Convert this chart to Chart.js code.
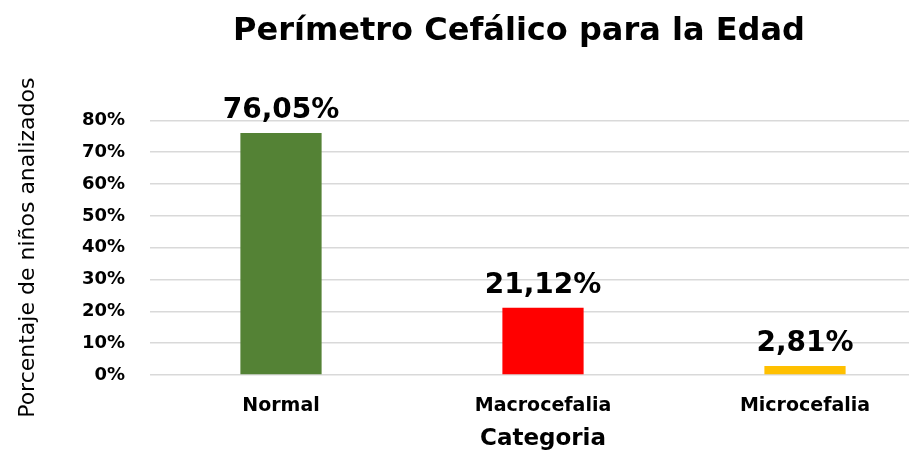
<!DOCTYPE html>
<html lang="es">
<head>
<meta charset="utf-8">
<title>Perímetro Cefálico para la Edad</title>
<script src="https://cdn.jsdelivr.net/npm/chart.js@4.4.1/dist/chart.umd.min.js"></script>
<style>
  html, body { margin: 0; padding: 0; overflow: hidden; background: #fff; }
  #wrap { width: 909px; height: 453px; overflow: hidden; }
</style>
</head>
<body>
<div id="wrap"><canvas id="perimetroChart" width="1038" height="453"></canvas></div>
<script>
const categories = ["Normal", "Macrocefalia", "Microcefalia"];
const percentages = [76.05, 21.12, 2.81];
const barColors = ["#548235", "#ff0000", "#ffc000"];
const yMax = 80;
const yStep = 10;

function formatPct(v) {
  return v.toFixed(2).replace(".", ",") + "%";
}

// etiquetas encima de cada barra
const barLabels = {
  id: "barLabels",
  afterDatasetsDraw(chart) {
    const ctx = chart.ctx;
    const meta = chart.getDatasetMeta(0);
    ctx.save();
    ctx.font = "bold 28px 'DejaVu Sans'";
    ctx.fillStyle = "#000";
    ctx.textAlign = "center";
    ctx.textBaseline = "alphabetic";
    meta.data.forEach((bar, i) => {
      ctx.fillText(formatPct(percentages[i]), bar.x, bar.y - 15);
    });
    ctx.restore();
  },
};

// el titulo original no esta centrado en el lienzo, lo movemos un poco a la derecha
const titleShift = {
  id: "titleShift",
  afterLayout(chart) {
    if (chart.titleBlock) {
      chart.titleBlock.left += 51;
      chart.titleBlock.right += 51;
    }
  },
};

document.addEventListener("DOMContentLoaded", function () {
  const ctx = document.getElementById("perimetroChart").getContext("2d");

  new Chart(ctx, {
    type: "bar",
    data: {
      labels: categories,
      datasets: [
        {
          label: "Porcentaje",
          data: percentages,
          backgroundColor: barColors,
          borderWidth: 0,
          barPercentage: 0.31,
          categoryPercentage: 1,
        },
      ],
    },
    plugins: [barLabels, titleShift],
    options: {
      responsive: false,
      animation: false,
      layout: {
        padding: { left: 0, right: 102, top: 0, bottom: 0 },
      },
      plugins: {
        legend: { display: false },
        tooltip: { enabled: false },
        title: {
          display: true,
          text: "Perímetro Cefálico para la Edad",
          color: "#000",
          font: { family: "'DejaVu Sans'", size: 32, weight: "bold" },
          padding: { top: 12, bottom: 70 },
        },
      },
      scales: {
        y: {
          min: 0,
          max: yMax,
          afterFit: function (scale) {
            scale.width = 150;
          },
          ticks: {
            stepSize: yStep,
            padding: 25,
            color: "#000",
            font: { family: "'DejaVu Sans'", size: 18, weight: "bold" },
            callback: function (value) {
              return value + "%";
            },
          },
          grid: {
            color: "#d9d9d9",
            lineWidth: 1.5,
            drawTicks: false,
          },
          border: { display: false },
          title: {
            display: true,
            text: "Porcentaje de niños analizados",
            color: "#000",
            font: { family: "'DejaVu Sans'", size: 22 },
            padding: { top: 15, bottom: 0 },
          },
        },
        x: {
          afterFit: function (scale) {
            scale.height = 78;
          },
          ticks: {
            padding: 20,
            color: "#000",
            font: { family: "'DejaVu Sans'", size: 19, weight: "bold" },
          },
          grid: { display: false, drawTicks: false },
          border: { display: false },
          title: {
            display: true,
            text: "Categoria",
            color: "#000",
            font: { family: "'DejaVu Sans'", size: 23, weight: "bold" },
            padding: { top: 0, bottom: 0 },
          },
        },
      },
    },
  });
});
</script>
</body>
</html>
